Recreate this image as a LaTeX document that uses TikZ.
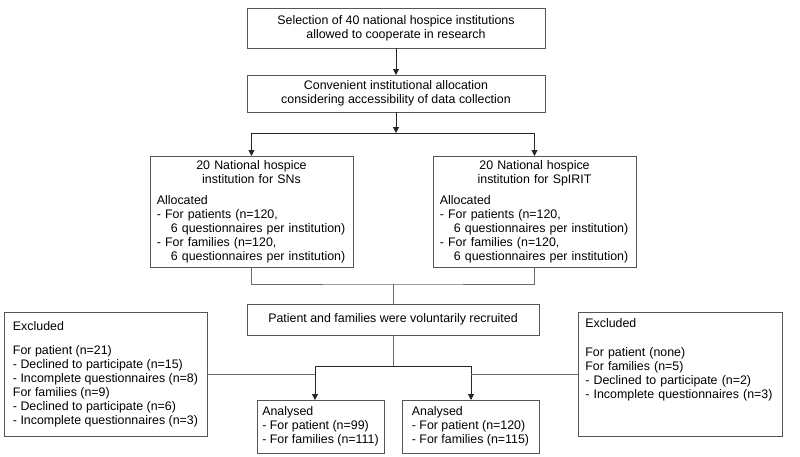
\documentclass[tikz,border=0pt]{standalone}
\usepackage{fontspec}
\setmainfont{Liberation Sans}
\usetikzlibrary{arrows.meta}
\definecolor{framegray}{HTML}{555555}
\definecolor{linegray}{HTML}{6A6A6A}

\begin{document}
\begin{tikzpicture}[x=0.75pt, y=-0.75pt,
		font=\fontsize{9.3}{10.5}\selectfont,
		box/.style={draw=framegray, line width=0.75pt, inner sep=0pt, outer sep=0pt, align=center},
		line/.style={draw=linegray, line width=0.75pt},
		link/.style={draw=black!85, line width=0.75pt},
		arr/.style={link, -{Triangle[length=4.5pt, width=4.5pt]}}]
		\useasboundingbox (0, 0) rectangle (800, 457);
		% top of the chart
		\node [box, minimum width=223.5pt, minimum height=30pt] (select) at (396, 28) {Selection of 40 national hospice institutions\\allowed to cooperate in research};
		\node [box, minimum width=223.5pt, minimum height=27.75pt] (alloc) at (396, 93.5) {Convenient institutional allocation\\considering accessibility of data collection};
		\node [box, minimum width=152.25pt, minimum height=83.25pt, text width=142pt, align=left] (sn) at (251.5, 211.5) {\centering 20 National hospice\\institution for SNs\par\vspace{5.25pt}\raggedright Allocated\\- For patients (n=120,\\\hspace*{10.5pt}6 questionnaires per institution)\\- For families (n=120,\\\hspace*{10.5pt}6 questionnaires per institution)};
		\node [box, minimum width=152.25pt, minimum height=83.25pt, text width=142pt, align=left] (spirit) at (534.5, 211.5) {\centering 20 National hospice\\institution for SpIRIT\par\vspace{5.25pt}\raggedright Allocated\\- For patients (n=120,\\\hspace*{10.5pt}6 questionnaires per institution)\\- For families (n=120,\\\hspace*{10.5pt}6 questionnaires per institution)};
		\node [box, minimum width=219pt, minimum height=23.25pt] (recruit) at (393, 319.5) {Patient and families were voluntarily recruited};
		% bottom row
		\node [box, minimum width=152.25pt, minimum height=93pt, align=left] (exclL) at (105.5, 374) {Excluded\\[7.5pt]For patient (n=21)\\- Declined to participate (n=15)\\- Incomplete questionnaires (n=8)\\For families (n=9)\\- Declined to participate (n=6)\\- Incomplete questionnaires (n=3)};
		\node [box, anchor=north west, text width=142pt, inner xsep=5.5pt, text height=11.25pt, text depth=81.75pt, align=left] (exclR) at (578, 312) {Excluded\\[11.25pt]For patient (none)\\For families (n=5)\\- Declined to participate (n=2)\\- Incomplete questionnaires (n=3)};
		\node [box, minimum width=95.25pt, minimum height=39.75pt, align=left] (an1) at (320.5, 426.5) {Analysed\\- For patient (n=99)\\- For families (n=111)};
		\node [box, minimum width=102.75pt, minimum height=39.75pt, align=left] (an2) at (470.5, 426.5) {Analysed\\- For patient (n=120)\\- For families (n=115)};
		\coordinate (split) at (396, 133);
		\coordinate (merge) at (393, 284);
		\coordinate (branch) at (393, 366);
		\coordinate (b1) at (315, 366);
		\coordinate (b2) at (471, 366);
		% connectors
		\draw [arr] (select) -- (alloc);
		\draw [arr] (alloc) -- (split);
		\draw [link] (sn |- split) -- (spirit |- split);
		\draw [arr] (sn |- split) -- (sn);
		\draw [arr] (spirit |- split) -- (spirit);
		\draw [line] (sn) |- (merge) -| (spirit);
		\draw [line] (merge) -- (recruit);
		\draw [line] (recruit) -- (branch);
		\draw [link] (b1) -- (b2);
		\draw [arr] (b1) -- (an1.north -| b1);
		\draw [arr] (b2) -- (an2.north -| b2);
		\draw [line] (exclL) -- (exclL -| b1);
		\draw [line] (exclR) -- (exclR -| b2);
	\end{tikzpicture}
\end{document}
